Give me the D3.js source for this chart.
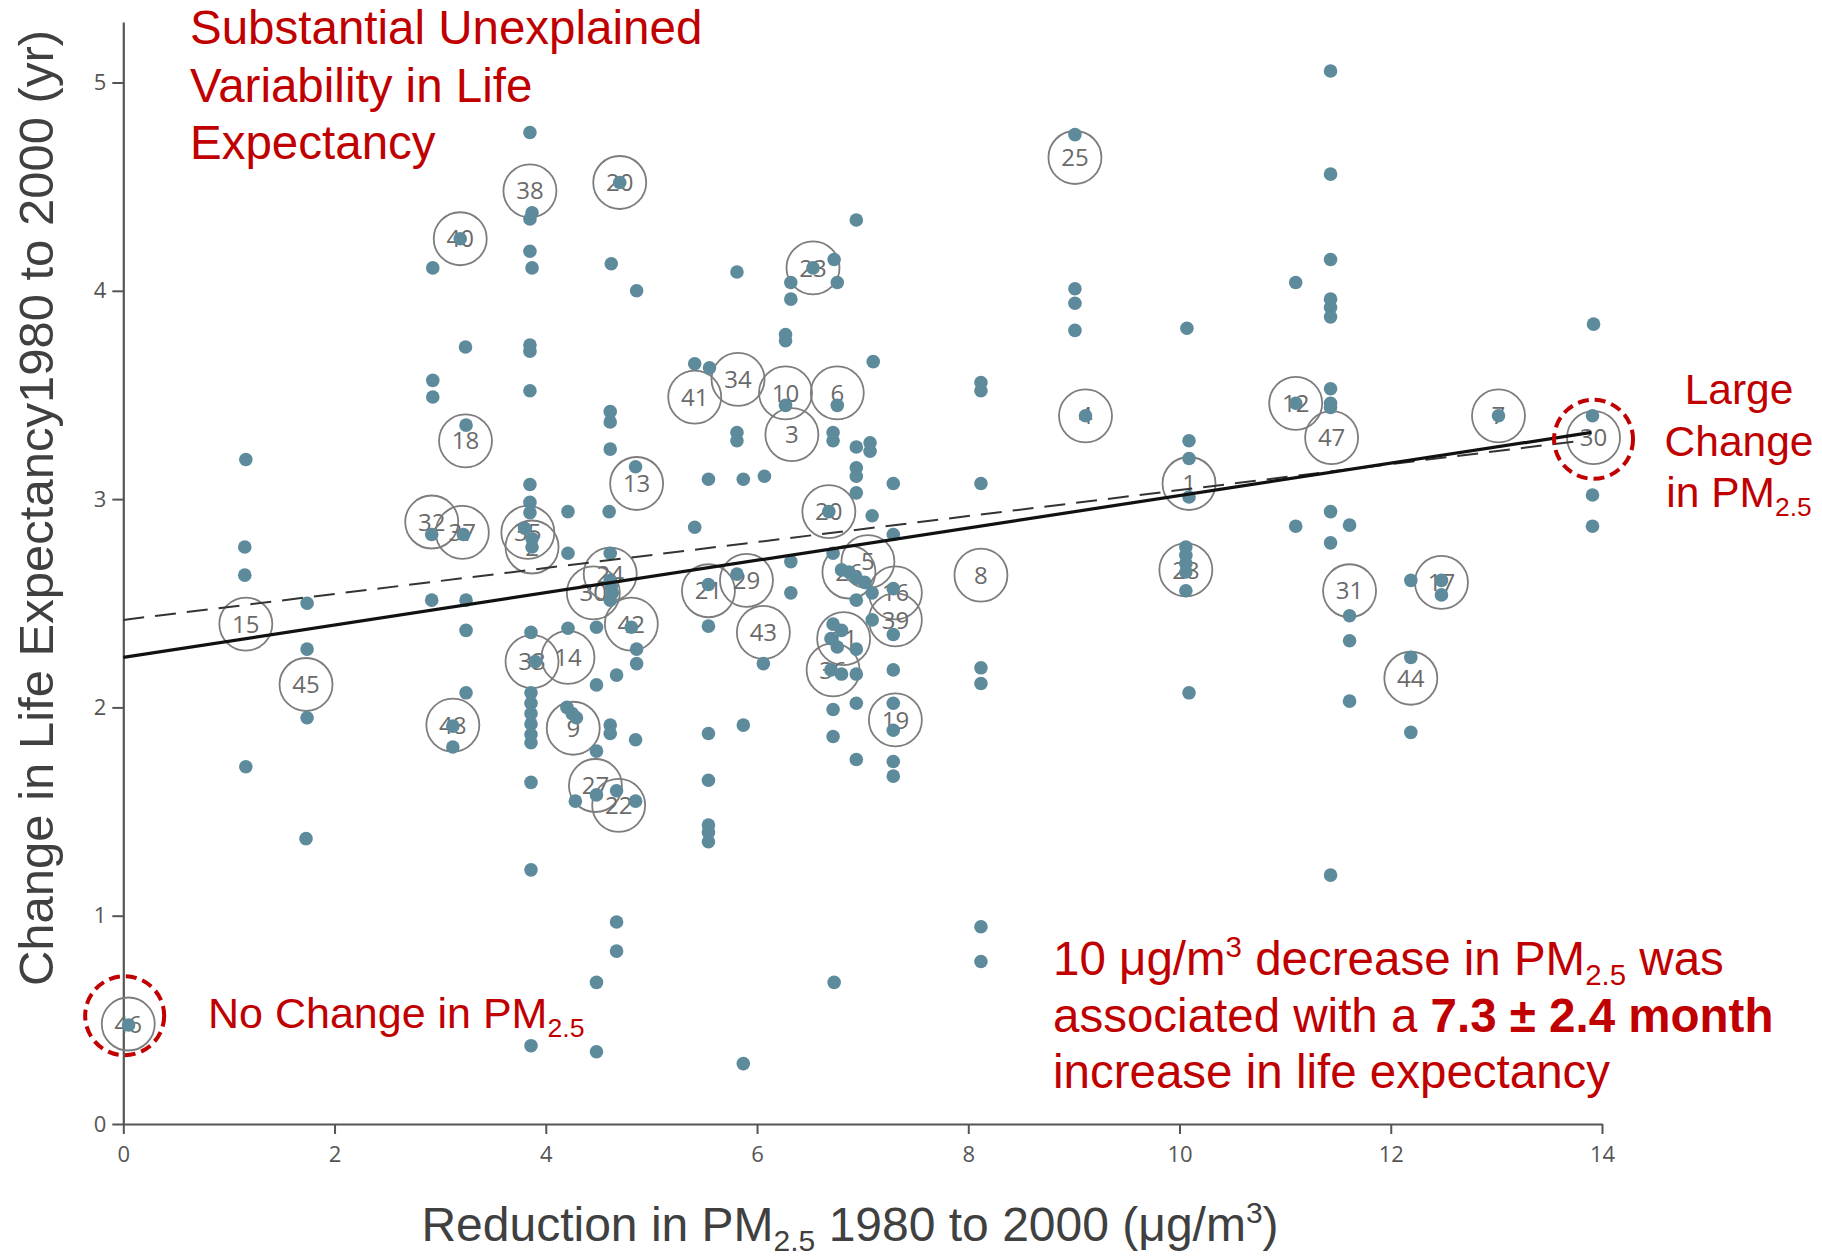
<!DOCTYPE html>
<html><head><meta charset="utf-8">
<script src="https://cdn.jsdelivr.net/npm/d3@7"></script>
<style>body{margin:0;background:#fff}svg{display:block}</style>
</head><body>
<script>
// ---------- data ----------
const pmReduction = [
 1.16,1.15,1.15,1.16, 1.74,1.74,1.74,1.73, 0.05,
 2.93,2.93,2.93,2.92,2.92, 3.19,3.24,3.245,3.22,3.245,3.245,3.245,3.12,3.12,
 3.85,3.87,3.85,3.85,3.87,3.85,3.85,3.85,3.85,3.85,3.85,3.80,3.87,3.87,3.86,3.90,3.86,3.86,3.86,3.86,3.86,3.86,3.86,3.86,3.86,
 4.21,4.21,4.21,4.20,4.25,4.29,4.28,
 4.48,4.48,4.48,4.48,4.48,4.48,
 4.61,4.61,4.61,4.62,4.60,4.61,4.61,4.62,4.63,4.61,4.67,4.61,4.61,4.67,4.67,4.67,4.70,
 4.86,4.85,4.81,4.86,4.86,4.85,4.85,
 5.41,5.55,5.54,5.41,5.54,5.54,5.54,5.54,5.54,5.54,5.54,
 5.81,5.81,5.81,5.87,5.81,5.87,5.87,
 6.07,6.06,6.32,6.32,6.27,6.27,6.27,6.32,6.32,
 6.53,6.73,6.76,6.76,6.72,6.72,6.68,6.72,6.73,
 6.94,7.10,6.94,7.07,7.07,6.94,6.94,6.94,7.09,6.94,7.09,6.94,6.94,
 7.29,7.29,7.29,7.29,7.29,7.29,7.29,7.29,7.29,
 6.80,6.87,6.94,7.02,7.09,6.72,6.80,6.70,6.76,6.94,6.70,6.80,6.94,6.72,6.72,
 8.12,8.12,8.12,8.12,8.12,8.12,8.12,
 9.01,9.01,9.01,9.01,9.11,
 10.07,10.09,10.09,10.09,10.06,10.06,10.06,10.06,10.06,10.09,
 11.43,11.43,11.43,11.10,11.43,11.43,11.43,11.43,11.43,11.43,11.10,11.43,11.10,11.61,11.43,11.61,11.61,11.61,11.43,
 12.19,12.48,12.48,12.19,12.19,
 13.02,
 13.92,13.91,13.91,13.91
];
const lifeChange = [
 3.19,2.77,2.635,1.715, 2.50,2.28,1.95,1.37, 0.475,
 4.11,3.57,3.49,2.83,2.515, 4.25,3.73,3.355,2.83,2.515,2.37,2.07,1.91,1.81,
 4.76,4.375,4.345,4.19,4.11,3.74,3.71,3.52,3.07,2.985,2.935,2.86,2.81,2.77,2.36,2.22,2.07,2.02,1.97,1.92,1.87,1.83,1.64,1.22,0.376,
 2.94,2.74,2.38,2.00,1.97,1.95,1.55,
 2.385,2.108,1.79,1.58,0.68,0.347,
 3.42,3.37,3.24,4.13,2.94,2.74,2.61,2.58,2.55,2.515,2.155,1.915,1.875,1.60,0.97,0.83,4.52,
 4.00,3.155,2.385,2.28,2.21,1.845,1.55,
 3.65,3.63,3.095,2.865,2.59,2.39,1.875,1.65,1.435,1.40,1.355,
 4.09,3.32,3.28,3.095,2.64,1.915,0.29,
 3.11,2.21,4.04,3.96,3.79,3.76,3.45,2.70,2.55,
 4.11,4.15,4.04,3.45,3.32,3.28,2.94,2.74,0.68,
 4.34,3.66,3.25,3.27,3.23,3.15,3.11,3.03,2.92,2.515,2.42,2.02,1.75,
 3.075,2.83,2.57,2.35,2.18,2.02,1.89,1.74,1.67,
 2.66,2.65,2.62,2.60,2.55,2.40,2.37,2.33,2.29,2.28,2.18,2.16,2.16,1.99,1.86,
 3.56,3.52,3.075,2.19,2.115,0.947,0.78,
 4.75,4.01,3.94,3.81,3.40,
 3.82,3.28,3.195,3.01,2.77,2.73,2.69,2.65,2.56,2.07,
 5.055,4.56,4.15,4.04,3.96,3.92,3.875,3.53,3.46,3.44,3.46,2.94,2.87,2.875,2.79,2.44,2.32,2.03,1.195,
 2.61,2.61,2.54,2.24,1.88,
 3.40,
 3.84,3.40,3.02,2.87
];
const circleLabels = ["46","15","45","18","40","32","37","48","38","35","2","30","24","42","33","14","9","27","22","20","13","41","34","10","6","3","23","21","29","43","20","26","5","11","36","16","39","19","8","25","4","1","28","12","47","31","17","44","7","30"];
const circleX = [0.047,1.16,1.73,3.24,3.19,2.92,3.21,3.12,3.85,3.83,3.87,4.45,4.61,4.81,3.87,4.21,4.26,4.47,4.69,4.70,4.86,5.41,5.82,6.27,6.76,6.33,6.53,5.54,5.90,6.06,6.68,6.87,7.05,6.82,6.72,7.31,7.31,7.31,8.12,9.01,9.11,10.09,10.06,11.10,11.44,11.61,12.48,12.19,13.02,13.92];
const circleY = [0.48,2.40,2.11,3.28,4.25,2.89,2.84,1.915,4.48,2.84,2.77,2.55,2.64,2.40,2.22,2.24,1.90,1.625,1.53,4.52,3.075,3.49,3.575,3.51,3.51,3.31,4.11,2.56,2.61,2.36,2.94,2.65,2.70,2.33,2.18,2.55,2.42,1.94,2.635,4.64,3.40,3.075,2.66,3.46,3.295,2.56,2.60,2.14,3.40,3.295];
const highlightX = [0.013, 13.92];
const highlightY = [0.52, 3.287];
const xTicks = [0,2,4,6,8,10,12,14];
const yTicks = [0,1,2,3,4,5];
const fitSolidX = [0, 13.9];
const fitSolidY = [2.24, 3.32];
const fitDashedX = [0, 13.8];
const fitDashedY = [2.42, 3.28];

// ---------- drawing ----------
const W = 1822, H = 1256;
const RED = "#c00000", SANS = "'Liberation Sans', Arial, sans-serif";
const svg = d3.select("body").append("svg").attr("width", W).attr("height", H);
svg.append("rect").attr("width", W).attr("height", H).attr("fill", "#fff");

const x = d3.scaleLinear().domain([0, 14]).range([123.3, 1602]);
const y = d3.scaleLinear().domain([0, 5.29]).range([1124, 1124 - 5.29 * 208.3]);

// axes
const gx = svg.append("g").attr("transform", "translate(0,1124)")
  .call(d3.axisBottom(x).tickValues(xTicks).tickFormat(d3.format("d")).tickSize(10).tickSizeOuter(0).tickPadding(12));
const gy = svg.append("g").attr("transform", "translate(123.3,0)")
  .call(d3.axisLeft(y).tickValues(yTicks).tickFormat(d3.format("d")).tickSize(11).tickSizeOuter(0).tickPadding(6));
[gx, gy].forEach(g => {
  g.select(".domain").attr("stroke", "#555").attr("stroke-width", 2.2);
  g.selectAll(".tick line").attr("stroke", "#555").attr("stroke-width", 2);
  g.selectAll(".tick text").attr("fill", "#555").style("font-family", "'Open Sans', sans-serif").style("font-size", "22px");
});

// labelled circles
const cg = svg.append("g");
circleLabels.forEach((lab, i) => {
  cg.append("circle").attr("cx", x(circleX[i])).attr("cy", y(circleY[i])).attr("r", 26.5)
    .attr("fill", "none").attr("stroke", "#7d7d7d").attr("stroke-width", 1.8);
  cg.append("text").attr("x", x(circleX[i])).attr("y", y(circleY[i])).attr("dy", "0.36em")
    .attr("text-anchor", "middle").attr("fill", "#6a6a6a")
    .style("font-family", "'Open Sans', sans-serif").style("font-size", "24px").text(lab);
});

// dots
svg.append("g").selectAll("circle").data(pmReduction.map((v, i) => [v, lifeChange[i]]))
  .join("circle").attr("cx", d => x(d[0])).attr("cy", d => y(d[1])).attr("r", 6.8)
  .attr("fill", "#5d8b9c");

// fit lines
const line = d3.line().x(d => x(d[0])).y(d => y(d[1]));
svg.append("path").attr("d", line(fitDashedX.map((v, i) => [v, fitDashedY[i]])))
  .attr("stroke", "#333").attr("stroke-width", 2).attr("stroke-dasharray", "21,11").attr("fill", "none");
svg.append("path").attr("d", line(fitSolidX.map((v, i) => [v, fitSolidY[i]])))
  .attr("stroke", "#111").attr("stroke-width", 3.2).attr("fill", "none");

// highlight circles
highlightX.forEach((v, i) => {
  svg.append("circle").attr("cx", x(v)).attr("cy", y(highlightY[i])).attr("r", 39.5)
    .attr("fill", "none").attr("stroke", RED).attr("stroke-width", 4).attr("stroke-dasharray", "11,6");
});

// axis titles
svg.append("text").attr("transform", "translate(53,508) rotate(-90)")
  .attr("text-anchor", "middle").attr("fill", "#404040")
  .style("font-family", SANS).style("font-size", "49px")
  .text("Change in Life Expectancy1980 to 2000 (yr)");

const tx = svg.append("text").attr("x", 850).attr("y", 1241).attr("text-anchor", "middle")
  .attr("fill", "#404040").style("font-family", SANS).style("font-size", "48px");
tx.append("tspan").text("Reduction in PM");
tx.append("tspan").attr("dy", 10).style("font-size", "30px").text("2.5");
tx.append("tspan").attr("dy", -10).text(" 1980 to 2000 (μg/m");
tx.append("tspan").attr("dy", -18).style("font-size", "30px").text("3");
tx.append("tspan").attr("dy", 18).text(")");

// annotations
function lines(xp, y0, lh, size, anchor, parts) {
  parts.forEach((segs, li) => {
    const t = svg.append("text").attr("x", xp).attr("y", y0 + li * lh).attr("text-anchor", anchor)
      .attr("fill", RED).style("font-family", SANS).style("font-size", size + "px");
    let shift = 0;
    segs.forEach(s => {
      const sp = t.append("tspan").text(s.t);
      let target = s.sub ? size * 0.22 : s.sup ? -size * 0.38 : 0;
      if (target !== shift) { sp.attr("dy", target - shift); shift = target; }
      if (s.sub || s.sup) sp.style("font-size", (size * 0.62) + "px");
      if (s.b) sp.style("font-weight", "bold");
    });
  });
}
lines(190, 44, 57.7, 47.5, "start", [
  [{t: "Substantial Unexplained"}], [{t: "Variability in Life"}], [{t: "Expectancy"}]]);
lines(1739, 404, 51.5, 42.5, "middle", [
  [{t: "Large"}], [{t: "Change"}], [{t: "in PM"}, {t: "2.5", sub: true}]]);
lines(208, 1028, 50, 43, "start", [
  [{t: "No Change in PM"}, {t: "2.5", sub: true}]]);
lines(1053, 975, 56.5, 47.5, "start", [
  [{t: "10 μg/m"}, {t: "3", sup: true}, {t: " decrease in PM"}, {t: "2.5", sub: true}, {t: " was"}],
  [{t: "associated with a "}, {t: "7.3 ± 2.4 month", b: true}],
  [{t: "increase in life expectancy"}]]);
</script>
</body></html>
